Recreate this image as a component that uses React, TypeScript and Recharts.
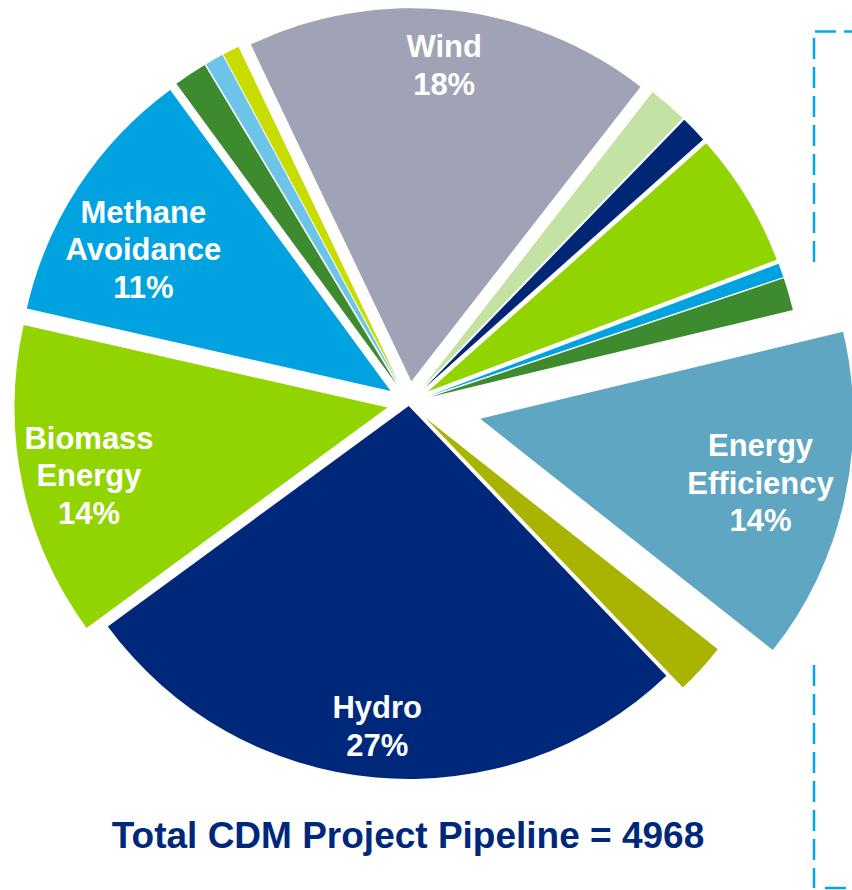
import React from 'react';
import { PieChart, Pie, Cell, Sector } from 'recharts';

// ---- data ----
const categories = [
  'Wind',
  'Landfill Gas',
  'Fossil Fuel Switch',
  'Solar',
  'Coal Bed/Mine Methane',
  'N2O',
  'Energy Efficiency',
  'Cement',
  'Hydro',
  'Biomass Energy',
  'Methane Avoidance',
  'Fugitive',
  'Geothermal',
  'Other',
];
const projectCounts = [875, 85, 58, 290, 30, 70, 715, 110, 1345, 676, 566, 72, 40, 36];
const labelLines: string[][] = [
  ['Wind'], [], [], [], [], [],
  ['Energy', 'Efficiency'], [],
  ['Hydro'], ['Biomass', 'Energy'], ['Methane', 'Avoidance'],
  [], [], [],
];
const TOTAL_PROJECTS = 4968;
const titleText = `Total CDM Project Pipeline = ${TOTAL_PROJECTS}`;

// ---- styles / layout ----
const sliceColors = [
  '#A0A2B6', '#C4E2A4', '#002776', '#92D400', '#00A3E0', '#3E8A2F',
  '#5EA6C1', '#A8B400', '#00287A', '#92D400', '#00A2DF',
  '#3E8A2F', '#6CC4E8', '#C8DC00',
];
const EXPLODE_DEFAULT = 22;
const explodeOverride: Record<string, number> = { Hydro: 3, 'Energy Efficiency': 73 };
const labelPlacement: Record<string, { r: number; da: number }> = {
  Wind: { r: 0.855, da: 0.3 },
  'Methane Avoidance': { r: 0.765, da: 3.3 },
  'Biomass Energy': { r: 0.82, da: 0.9 },
  'Energy Efficiency': { r: 0.77, da: -0.2 },
  Hydro: { r: 0.86, da: -0.6 },
};
const RAD = Math.PI / 180;
const FONT = '"Liberation Sans", Arial, Helvetica, sans-serif';

const chartData = categories.map((name, i) => ({ name, value: projectCounts[i] }));

const explodeOffset = (name: string, midAngle: number): [number, number] => {
  const d = explodeOverride[name] ?? EXPLODE_DEFAULT;
  return [d * Math.cos(midAngle * RAD), -d * Math.sin(midAngle * RAD)];
};

const ExplodedSector = (props: any) => {
  const { cx, cy, innerRadius, outerRadius, startAngle, endAngle, midAngle, fill, index } = props;
  const name = categories[index] ?? props.name;
  const [ox, oy] = explodeOffset(name, midAngle);
  return (
    <Sector
      cx={cx + ox}
      cy={cy + oy}
      innerRadius={innerRadius}
      outerRadius={outerRadius}
      startAngle={startAngle}
      endAngle={endAngle}
      fill={fill}
      stroke="none"
    />
  );
};

const renderLabel = (props: any) => {
  const { cx, cy, midAngle, outerRadius, percent, index } = props;
  const lines = labelLines[index];
  if (!lines || lines.length === 0) return null;
  const name = categories[index];
  const [ox, oy] = explodeOffset(name, midAngle);
  const pl = labelPlacement[name] ?? { r: 0.8, da: 0 };
  const a = (midAngle + pl.da) * RAD;
  const x = cx + ox + outerRadius * pl.r * Math.cos(a);
  const y = cy + oy - outerRadius * pl.r * Math.sin(a);
  const all = [...lines, `${Math.round(percent * 100)}%`];
  const lh = 37.5;
  const first = y - ((all.length - 1) * lh) / 2 + 12;
  return (
    <text
      x={x}
      y={first}
      textAnchor="middle"
      fill="#FFFFFF"
      fontSize={31}
      fontWeight="bold"
      fontFamily={FONT}
    >
      {all.map((l, i) => (
        <tspan key={i} x={x} y={first + i * lh}>
          {l}
        </tspan>
      ))}
    </text>
  );
};

export default function App() {
  return (
    <div style={{ position: 'absolute', left: 0, top: 0, width: 852, height: 890, background: '#fff', overflow: 'hidden' }}>
      <PieChart width={852} height={890} margin={{ top: 0, right: 0, bottom: 0, left: 0 }}>
        <Pie
          data={chartData}
          dataKey="value"
          nameKey="name"
          cx={409}
          cy={403}
          innerRadius={0}
          outerRadius={373}
          startAngle={115.5}
          endAngle={-244.5}
          stroke="none"
          isAnimationActive={false}
          labelLine={false}
          label={renderLabel}
          shape={ExplodedSector}
        >
          {chartData.map((d, i) => (
            <Cell key={d.name} fill={sliceColors[i]} />
          ))}
        </Pie>
      </PieChart>
      <svg
        width={852}
        height={890}
        style={{ position: 'absolute', left: 0, top: 0, pointerEvents: 'none' }}
      >
        <g stroke="#00A9E6" strokeWidth={2.5} fill="none" strokeDasharray="21 8">
          <line x1={815} y1={31.5} x2={852} y2={31.5} />
          <line x1={814} y1={38} x2={814} y2={266} />
          <line x1={814} y1={665} x2={814} y2={888} />
          <line x1={825} y1={888} x2={852} y2={888} />
        </g>
        <text
          x={408}
          y={848}
          textAnchor="middle"
          fill="#00287A"
          fontSize={37}
          fontWeight="bold"
          fontFamily={FONT}
        >
          {titleText}
        </text>
      </svg>
    </div>
  );
}
